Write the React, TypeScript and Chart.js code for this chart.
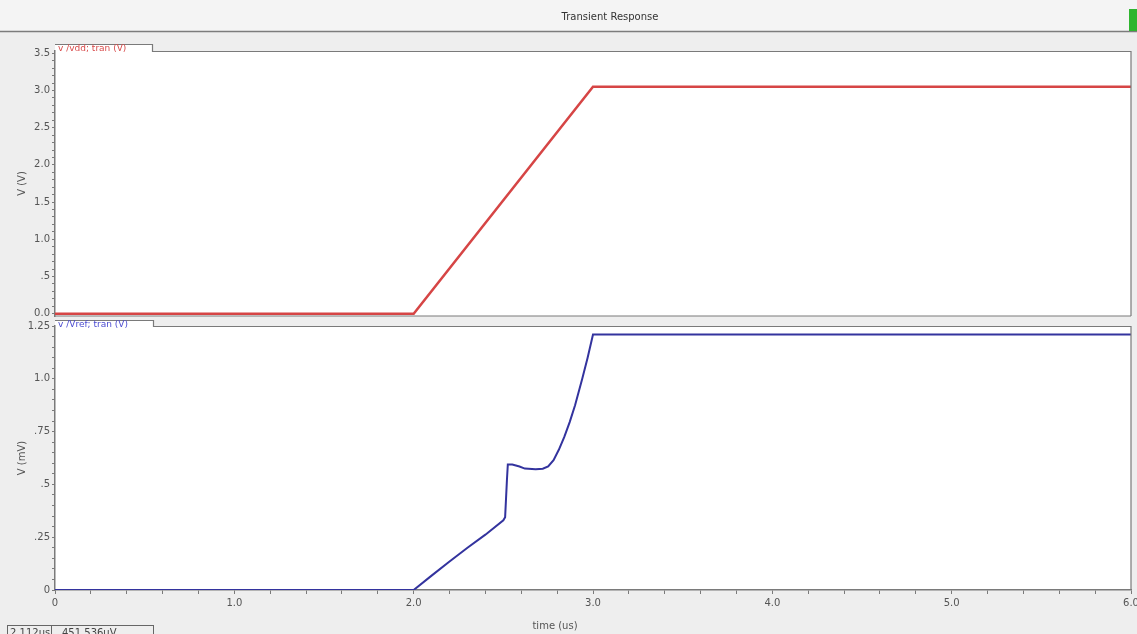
import React, { useEffect, useRef } from "react";
import { Chart, registerables } from "chart.js";

Chart.register(...registerables);

// ---- Data ----
const vddTime = [0, 2.0, 3.0, 6.0];
const vddValue = [0, 0, 3.05, 3.05];

const vrefTime = [0, 2.0, 2.1, 2.2, 2.3, 2.4, 2.5, 2.51, 2.52, 2.525, 2.55, 2.59, 2.62, 2.68, 2.72, 2.75, 2.78, 2.81, 2.84, 2.87, 2.9, 2.94, 2.97, 3.0, 6.0];
const vrefValue = [0, 0, 0.068, 0.135, 0.2, 0.262, 0.33, 0.345, 0.52, 0.594, 0.594, 0.585, 0.575, 0.572, 0.574, 0.585, 0.615, 0.665, 0.725, 0.795, 0.875, 1.0, 1.1, 1.21, 1.21];

const xTickValues = [0, 1, 2, 3, 4, 5, 6];
const xTickLabels = ["0", "1.0", "2.0", "3.0", "4.0", "5.0", "6.0"];
const topTickValues = [0, 0.5, 1, 1.5, 2, 2.5, 3, 3.5];
const topTickLabels = ["0.0", ".5", "1.0", "1.5", "2.0", "2.5", "3.0", "3.5"];
const botTickValues = [0, 0.25, 0.5, 0.75, 1.0, 1.25];
const botTickLabels = ["0", ".25", ".5", ".75", "1.0", "1.25"];

const titleText = "Transient Response";
const vddLabel = "v /vdd; tran (V)";
const vrefLabel = "v /Vref; tran (V)";
const topYTitle = "V (V)";
const botYTitle = "V (mV)";
const xTitle = "time (us)";
const cursorTime = "2.112us";
const cursorValue = "451.536uV";

const FONT = "'DejaVu Sans', 'Liberation Sans', sans-serif";
const AXIS = "#7a7a7a";
const TEXT = "#555555";

function lookupLabel(values: number[], labels: string[], v: number): string {
  for (let i = 0; i < values.length; i++) {
    if (Math.abs(values[i] - v) < 1e-6) return labels[i];
  }
  return "";
}

export default function App() {
  const topRef = useRef<HTMLCanvasElement | null>(null);
  const botRef = useRef<HTMLCanvasElement | null>(null);

  useEffect(() => {
    const decorA = {
      id: "decorA",
      beforeDraw(chart: any) {
        const { ctx, chartArea: a } = chart;
        ctx.save();
        ctx.fillStyle = "#f4f4f4";
        ctx.fillRect(0, 0, 1137, 31);
        ctx.fillStyle = "#ffffff";
        ctx.fillRect(a.left, a.top, a.right - a.left, a.bottom - a.top);
        ctx.fillRect(a.left, a.top - 7, 97, 7);
        ctx.restore();
      },
      afterDraw(chart: any) {
        const { ctx, chartArea: a } = chart;
        ctx.save();
        // title
        ctx.fillStyle = "#333333";
        ctx.font = `10px ${FONT}`;
        ctx.textAlign = "center";
        ctx.textBaseline = "middle";
        ctx.fillText(titleText, 610, 17);
        // title underline
        ctx.strokeStyle = "#7c7c7c";
        ctx.lineWidth = 1.5;
        ctx.beginPath();
        ctx.moveTo(0, 31.5);
        ctx.lineTo(1137, 31.5);
        ctx.stroke();
        // green indicator
        ctx.fillStyle = "#2fb52f";
        ctx.fillRect(1129, 9, 8, 22);
        // frame
        ctx.strokeStyle = AXIS;
        ctx.lineWidth = 1.2;
        ctx.beginPath();
        ctx.moveTo(a.left, a.top - 6.5);
        ctx.lineTo(152.5, a.top - 6.5);
        ctx.lineTo(152.5, a.top + 0.5);
        ctx.lineTo(a.right, a.top + 0.5);
        ctx.lineTo(a.right, a.bottom);
        ctx.moveTo(a.left, a.bottom);
        ctx.lineTo(a.right, a.bottom);
        ctx.stroke();
        // legend label
        ctx.fillStyle = "#d84a4a";
        ctx.font = `9px ${FONT}`;
        ctx.textAlign = "left";
        ctx.textBaseline = "middle";
        ctx.fillText(vddLabel, a.left + 3, a.top - 2);
        ctx.restore();
      },
    };

    const decorB = {
      id: "decorB",
      beforeDraw(chart: any) {
        const { ctx, chartArea: a } = chart;
        ctx.save();
        ctx.fillStyle = "#ffffff";
        ctx.fillRect(a.left, a.top, a.right - a.left, a.bottom - a.top);
        ctx.fillRect(a.left, a.top - 6, 98, 6);
        ctx.restore();
      },
      afterDraw(chart: any) {
        const { ctx, chartArea: a } = chart;
        ctx.save();
        ctx.strokeStyle = AXIS;
        ctx.lineWidth = 1.2;
        ctx.beginPath();
        ctx.moveTo(a.left, a.top - 5.5);
        ctx.lineTo(153.5, a.top - 5.5);
        ctx.lineTo(153.5, a.top + 0.5);
        ctx.lineTo(a.right, a.top + 0.5);
        ctx.lineTo(a.right, a.bottom);
        ctx.stroke();
        // legend label
        ctx.fillStyle = "#4a4ad0";
        ctx.font = `9px ${FONT}`;
        ctx.textAlign = "left";
        ctx.textBaseline = "middle";
        ctx.fillText(vrefLabel, a.left + 3, a.top - 1);
        // x title
        ctx.fillStyle = TEXT;
        ctx.font = `10px ${FONT}`;
        ctx.textAlign = "center";
        ctx.fillText(xTitle, 555, 308);
        // cursor readout boxes
        ctx.strokeStyle = "#666666";
        ctx.lineWidth = 1;
        ctx.strokeRect(7.5, 307.5, 44, 14);
        ctx.strokeRect(51.5, 307.5, 102, 14);
        ctx.fillStyle = "#444444";
        ctx.font = `10px ${FONT}`;
        ctx.textAlign = "left";
        ctx.textBaseline = "top";
        ctx.fillText(cursorTime, 10, 310);
        ctx.fillText(cursorValue, 62, 310);
        ctx.restore();
      },
    };

    const yCommon = (title: string) => ({
      position: "left" as const,
      border: { display: true, color: AXIS, width: 1.5 },
      grid: { drawOnChartArea: false, drawTicks: true, tickLength: 3, color: AXIS },
      title: { display: true, text: title, color: TEXT, font: { size: 10, family: FONT }, padding: { top: 16, bottom: 0 } },
      afterFit: (s: any) => {
        s.width = 55;
        s.paddingTop = 0;
        s.paddingBottom = 0;
      },
    });

    const chartA = new Chart(topRef.current as HTMLCanvasElement, {
      type: "line",
      data: {
        datasets: [
          {
            label: vddLabel,
            data: vddTime.map((t, i) => ({ x: t, y: vddValue[i] })),
            borderColor: "#d64545",
            borderWidth: 2.5,
            pointRadius: 0,
            tension: 0,
          },
        ],
      },
      options: {
        responsive: false,
        animation: false,
        layout: { padding: { top: 51, right: 6, bottom: 2, left: 0 } },
        plugins: { legend: { display: false }, tooltip: { enabled: false }, title: { display: false } },
        scales: {
          x: { type: "linear", min: 0, max: 6, display: false },
          y: {
            ...yCommon(topYTitle),
            type: "linear",
            min: -0.03,
            max: 3.53,
            ticks: {
              stepSize: 0.1,
              includeBounds: false,
              autoSkip: false,
              padding: 2,
              color: TEXT,
              font: { size: 10, family: FONT },
              callback: (v: any) => lookupLabel(topTickValues, topTickLabels, Number(v)),
            },
          },
        },
      },
      plugins: [decorA],
    } as any);

    const chartB = new Chart(botRef.current as HTMLCanvasElement, {
      type: "line",
      data: {
        datasets: [
          {
            label: vrefLabel,
            data: vrefTime.map((t, i) => ({ x: t, y: vrefValue[i] })),
            borderColor: "#33339e",
            borderWidth: 2,
            pointRadius: 0,
            tension: 0,
          },
        ],
      },
      options: {
        responsive: false,
        animation: false,
        layout: { padding: { top: 8, right: 6, bottom: 0, left: 0 } },
        plugins: { legend: { display: false }, tooltip: { enabled: false }, title: { display: false } },
        scales: {
          x: {
            type: "linear",
            min: 0,
            max: 6,
            border: { display: true, color: AXIS, width: 1.5 },
            grid: { drawOnChartArea: false, drawTicks: true, tickLength: 4, color: AXIS },
            ticks: {
              stepSize: 0.2,
              autoSkip: false,
              maxRotation: 0,
              minRotation: 0,
              padding: 3,
              color: TEXT,
              font: { size: 10, family: FONT },
              callback: (v: any) => lookupLabel(xTickValues, xTickLabels, Number(v)),
            },
            afterFit: (s: any) => {
              s.height = 44;
              s.paddingLeft = 0;
              s.paddingRight = 0;
            },
          },
          y: {
            ...yCommon(botYTitle),
            type: "linear",
            min: 0,
            max: 1.25,
            ticks: {
              stepSize: 0.05,
              autoSkip: false,
              padding: 2,
              color: TEXT,
              font: { size: 10, family: FONT },
              callback: (v: any) => lookupLabel(botTickValues, botTickLabels, Number(v)),
            },
          },
        },
      },
      plugins: [decorB],
    } as any);

    return () => {
      chartA.destroy();
      chartB.destroy();
    };
  }, []);

  return (
    <div
      style={{
        position: "fixed",
        left: 0,
        top: 0,
        width: 1137,
        height: 634,
        background: "#eeeeee",
        overflow: "hidden",
      }}
    >
      <canvas ref={topRef} width={1137} height={318} style={{ position: "absolute", left: 0, top: 0 }} />
      <canvas ref={botRef} width={1137} height={316} style={{ position: "absolute", left: 0, top: 318 }} />
    </div>
  );
}
